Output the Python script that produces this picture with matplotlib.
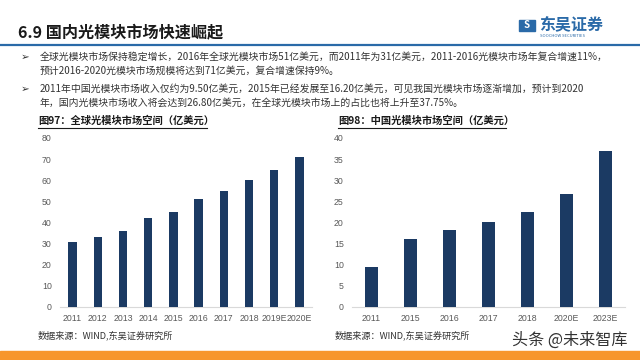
import matplotlib
matplotlib.use("Agg")
import matplotlib.pyplot as plt
from matplotlib.patches import Rectangle

plt.rcParams['font.family'] = ['Noto Sans CJK SC', 'DejaVu Sans']

# ---- data ----
global_years = ["2011", "2012", "2013", "2014", "2015", "2016", "2017", "2018", "2019E", "2020E"]
global_values = [31, 33, 36, 42, 45, 51, 55, 60, 65, 71]
global_ticks = [0, 10, 20, 30, 40, 50, 60, 70, 80]

china_years = ["2011", "2015", "2016", "2017", "2018", "2020E", "2023E"]
china_values = [9.5, 16.2, 18.2, 20.2, 22.5, 26.8, 37.0]
china_ticks = [0, 5, 10, 15, 20, 25, 30, 35, 40]

page_title = "6.9 国内光模块市场快速崛起"
bullet1 = ["全球光模块市场保持稳定增长，2016年全球光模块市场51亿美元，而2011年为31亿美元，2011-2016光模块市场年复合增速11%，",
           "预计2016-2020光模块市场规模将达到71亿美元，复合增速保持9%。"]
bullet2 = ["2011年中国光模块市场收入仅约为9.50亿美元，2015年已经发展至16.20亿美元，可见我国光模块市场逐渐增加，预计到2020",
           "年，国内光模块市场收入将会达到26.80亿美元，在全球光模块市场上的占比也将上升至37.75%。"]
title_left = "图97：全球光模块市场空间（亿美元）"
title_right = "图98：中国光模块市场空间（亿美元）"
source = "数据来源：WIND,东吴证券研究所"

W, H = 640, 360
fig = plt.figure(figsize=(6.4, 3.6), dpi=100)
fig.patch.set_facecolor("white")

def px(x, y):
    return x / W, 1 - y / H

BAR = "#1b3a63"
TICK = "#595959"

def make_axes(rect, cats, vals, ticks):
    ax = fig.add_axes(rect)
    ax.bar(range(len(cats)), vals, width=0.33, color=BAR, zorder=3)
    ax.set_xlim(-0.5, len(cats) - 0.5)
    ax.set_ylim(ticks[0], ticks[-1])
    ax.set_yticks(ticks)
    ax.set_xticks(range(len(cats)))
    ax.set_xticklabels(cats)
    for s in ["top", "right", "left"]:
        ax.spines[s].set_visible(False)
    ax.spines["bottom"].set_color("#d9d9d9")
    ax.spines["bottom"].set_linewidth(0.8)
    ax.tick_params(axis="both", length=0, labelsize=6.3, colors=TICK, pad=5)
    ax.tick_params(axis="y", pad=6)
    for lab in ax.get_xticklabels() + ax.get_yticklabels():
        lab.set_family(["Liberation Sans", "DejaVu Sans"])
    return ax

make_axes([60 / W, 1 - 307 / H, 252 / W, 169 / H], global_years, global_values, global_ticks)
make_axes([352 / W, 1 - 307 / H, 273 / W, 169 / H], china_years, china_values, china_ticks)

# header
fig.text(*px(18, 32), page_title, fontsize=11.6, fontweight="bold", color="#1a1a1a", va="center", ha="left")
fig.add_artist(plt.Line2D([0, 1], [1 - 44.5 / H] * 2, color="#2a6aa8", lw=1.6, transform=fig.transFigure))

# logo
fig.patches.append(Rectangle(px(519, 31), 16 / W, 11 / H, transform=fig.transFigure, color="#2a6aa8"))
fig.text(*px(527, 25.5), "S", fontsize=7, color="white", fontweight="bold", ha="center", va="center", style="italic")
fig.text(*px(539, 24), "东吴证券", fontsize=11.5, fontweight="bold", color="#2a6aa8", va="center", ha="left")
fig.text(*px(540, 36), "SOOCHOW SECURITIES", fontsize=3.0, color="#2a6aa8", va="center", ha="left")

# bullets
for y0, lines in [(57, bullet1), (89, bullet2)]:
    fig.text(*px(21, y0), "➢", fontsize=7.5, color="#333333", va="center", ha="left",
             family=["DejaVu Sans"])
    for i, ln in enumerate(lines):
        fig.text(*px(40, y0 + i * 14), ln, fontsize=7.1, color="#333333", va="center", ha="left")

# chart titles
for x0, t in [(38, title_left), (338, title_right)]:
    fig.text(*px(x0, 121), t, fontsize=7.4, fontweight="bold", color="#1a1a1a", va="center", ha="left")
fig.add_artist(plt.Line2D([38 / W, 207 / W], [1 - 127.5 / H] * 2, color="#1a1a1a", lw=0.8, transform=fig.transFigure))
fig.add_artist(plt.Line2D([338 / W, 506 / W], [1 - 127.5 / H] * 2, color="#1a1a1a", lw=0.8, transform=fig.transFigure))

# sources
fig.text(*px(38, 335), source, fontsize=6.6, color="#333333", va="center", ha="left")
fig.text(*px(335, 335), source, fontsize=6.6, color="#333333", va="center", ha="left")

# watermark
fig.text(*px(512, 340), "头条 @未来智库", fontsize=11.6, color="#333333", va="center", ha="left")

# orange band
fig.patches.append(Rectangle((0, 0), 1, 9 / H, transform=fig.transFigure, color="#f7962c"))

fig.savefig("out.png", dpi=100)
